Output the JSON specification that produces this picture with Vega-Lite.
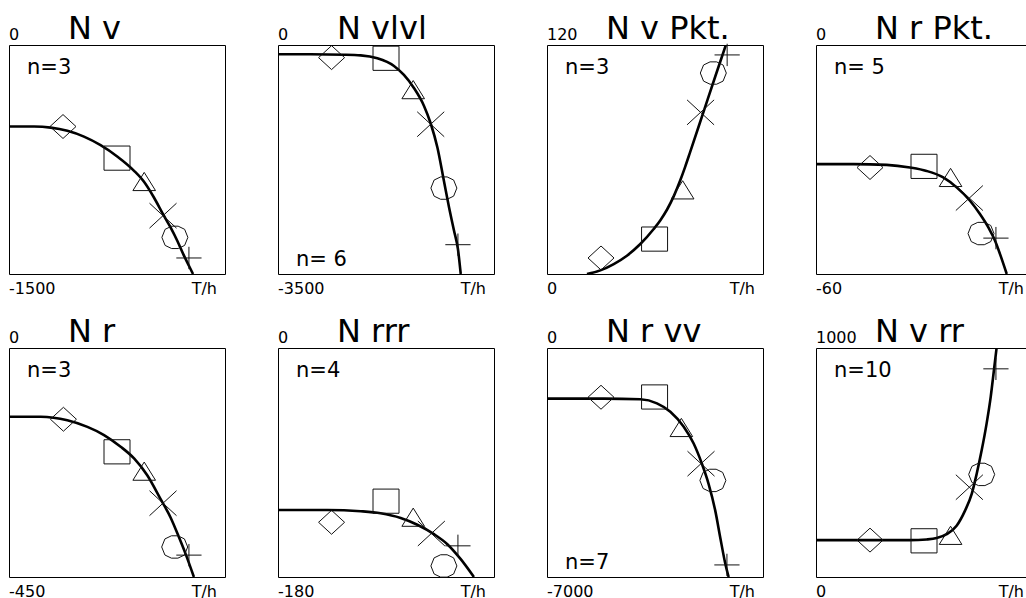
{
  "$schema": "https://vega.github.io/schema/vega-lite/v6.json",
  "padding": {"left": 8, "top": 12, "right": 0, "bottom": 0},
  "bounds": "flush",
  "columns": 4,
  "spacing": {"row": 74, "column": 53},
  "data": {"values": [
    {"k":"m","panel":"N v","x0":0,"x1":100,"hi":0,"lo":-1500,"top":"0","bot":"-1500","n":"n=3","nAt":"top","unit":"T/h"},
    {"k":"m","panel":"N vlvl","x0":0,"x1":100,"hi":0,"lo":-3500,"top":"0","bot":"-3500","n":"n= 6","nAt":"bottom","unit":"T/h"},
    {"k":"m","panel":"N v Pkt.","x0":0,"x1":100,"hi":120,"lo":0,"top":"120","bot":"0","n":"n=3","nAt":"top","unit":"T/h"},
    {"k":"m","panel":"N r Pkt.","x0":0,"x1":100,"hi":0,"lo":-60,"top":"0","bot":"-60","n":"n= 5","nAt":"top","unit":"T/h"},
    {"k":"m","panel":"N r","x0":0,"x1":100,"hi":0,"lo":-450,"top":"0","bot":"-450","n":"n=3","nAt":"top","unit":"T/h"},
    {"k":"m","panel":"N rrr","x0":0,"x1":100,"hi":0,"lo":-180,"top":"0","bot":"-180","n":"n=4","nAt":"top","unit":"T/h"},
    {"k":"m","panel":"N r vv","x0":0,"x1":100,"hi":0,"lo":-7000,"top":"0","bot":"-7000","n":"n=7","nAt":"bottom","unit":"T/h"},
    {"k":"m","panel":"N v rr","x0":0,"x1":100,"hi":1000,"lo":0,"top":"1000","bot":"0","n":"n=10","nAt":"top","unit":"T/h"},

    {"k":"c","panel":"N v","x":0,"y":-534},{"k":"c","panel":"N v","x":11.6,"y":-534},{"k":"c","panel":"N v","x":19.3,"y":-541},{"k":"c","panel":"N v","x":27,"y":-562},{"k":"c","panel":"N v","x":34.7,"y":-600},{"k":"c","panel":"N v","x":42.4,"y":-656},{"k":"c","panel":"N v","x":50.1,"y":-730},{"k":"c","panel":"N v","x":57.9,"y":-824},{"k":"c","panel":"N v","x":62.5,"y":-896},{"k":"c","panel":"N v","x":67.1,"y":-999},{"k":"c","panel":"N v","x":71.3,"y":-1108},{"k":"c","panel":"N v","x":74.8,"y":-1195},{"k":"c","panel":"N v","x":77.9,"y":-1282},{"k":"c","panel":"N v","x":81,"y":-1380},{"k":"c","panel":"N v","x":83.3,"y":-1446},{"k":"c","panel":"N v","x":85.2,"y":-1500},

    {"k":"c","panel":"N vlvl","x":0,"y":-142},{"k":"c","panel":"N vlvl","x":15.1,"y":-142},{"k":"c","panel":"N vlvl","x":30.6,"y":-148},{"k":"c","panel":"N vlvl","x":38.3,"y":-158},{"k":"c","panel":"N vlvl","x":46,"y":-203},{"k":"c","panel":"N vlvl","x":53.7,"y":-320},{"k":"c","panel":"N vlvl","x":58.3,"y":-458},{"k":"c","panel":"N vlvl","x":63,"y":-661},{"k":"c","panel":"N vlvl","x":67.6,"y":-931},{"k":"c","panel":"N vlvl","x":70.7,"y":-1200},{"k":"c","panel":"N vlvl","x":73.8,"y":-1567},{"k":"c","panel":"N vlvl","x":76.8,"y":-2076},{"k":"c","panel":"N vlvl","x":79.2,"y":-2483},{"k":"c","panel":"N vlvl","x":81.5,"y":-2839},{"k":"c","panel":"N vlvl","x":83.3,"y":-3118},{"k":"c","panel":"N vlvl","x":84.6,"y":-3500},

    {"k":"c","panel":"N v Pkt.","x":18.5,"y":0},{"k":"c","panel":"N v Pkt.","x":24.7,"y":1.9},{"k":"c","panel":"N v Pkt.","x":30.9,"y":5.2},{"k":"c","panel":"N v Pkt.","x":37,"y":9.6},{"k":"c","panel":"N v Pkt.","x":43.2,"y":15.7},{"k":"c","panel":"N v Pkt.","x":49.4,"y":23.6},{"k":"c","panel":"N v Pkt.","x":52.5,"y":28.2},{"k":"c","panel":"N v Pkt.","x":55.6,"y":33.8},{"k":"c","panel":"N v Pkt.","x":58.7,"y":40.8},{"k":"c","panel":"N v Pkt.","x":61.7,"y":49.1},{"k":"c","panel":"N v Pkt.","x":64,"y":56.3},{"k":"c","panel":"N v Pkt.","x":66.3,"y":64},{"k":"c","panel":"N v Pkt.","x":72.5,"y":85.1},{"k":"c","panel":"N v Pkt.","x":77.9,"y":103.5},{"k":"c","panel":"N v Pkt.","x":82.8,"y":120},

    {"k":"c","panel":"N r Pkt.","x":0,"y":-31.2},{"k":"c","panel":"N r Pkt.","x":17.3,"y":-31.2},{"k":"c","panel":"N r Pkt.","x":32.7,"y":-31.4},{"k":"c","panel":"N r Pkt.","x":43.5,"y":-32.1},{"k":"c","panel":"N r Pkt.","x":51.2,"y":-33},{"k":"c","panel":"N r Pkt.","x":58.9,"y":-34.7},{"k":"c","panel":"N r Pkt.","x":65.1,"y":-37.3},{"k":"c","panel":"N r Pkt.","x":71.3,"y":-40.8},{"k":"c","panel":"N r Pkt.","x":75.9,"y":-44.3},{"k":"c","panel":"N r Pkt.","x":79.8,"y":-47.8},{"k":"c","panel":"N r Pkt.","x":82.9,"y":-51.3},{"k":"c","panel":"N r Pkt.","x":85.2,"y":-54.8},{"k":"c","panel":"N r Pkt.","x":88.3,"y":-60},

    {"k":"c","panel":"N r","x":0,"y":-135},{"k":"c","panel":"N r","x":14.7,"y":-135},{"k":"c","panel":"N r","x":27,"y":-142},{"k":"c","panel":"N r","x":36.3,"y":-155},{"k":"c","panel":"N r","x":44,"y":-171},{"k":"c","panel":"N r","x":51.7,"y":-194},{"k":"c","panel":"N r","x":57.9,"y":-217},{"k":"c","panel":"N r","x":64,"y":-250},{"k":"c","panel":"N r","x":70.2,"y":-297},{"k":"c","panel":"N r","x":74.8,"y":-333},{"k":"c","panel":"N r","x":78.7,"y":-372},{"k":"c","panel":"N r","x":81.8,"y":-405},{"k":"c","panel":"N r","x":85.6,"y":-450},

    {"k":"c","panel":"N rrr","x":0,"y":-127.3},{"k":"c","panel":"N rrr","x":22.8,"y":-127.3},{"k":"c","panel":"N rrr","x":38.3,"y":-128.3},{"k":"c","panel":"N rrr","x":47.5,"y":-129.9},{"k":"c","panel":"N rrr","x":56.8,"y":-133.6},{"k":"c","panel":"N rrr","x":64.5,"y":-138.9},{"k":"c","panel":"N rrr","x":72.2,"y":-146.3},{"k":"c","panel":"N rrr","x":78.4,"y":-154.2},{"k":"c","panel":"N rrr","x":84.6,"y":-166},{"k":"c","panel":"N rrr","x":90.7,"y":-180},

    {"k":"c","panel":"N r vv","x":0,"y":-1548},{"k":"c","panel":"N r vv","x":26.2,"y":-1548},{"k":"c","panel":"N r vv","x":43.2,"y":-1568},{"k":"c","panel":"N r vv","x":50.9,"y":-1691},{"k":"c","panel":"N r vv","x":57.1,"y":-1947},{"k":"c","panel":"N r vv","x":63.3,"y":-2408},{"k":"c","panel":"N r vv","x":67.9,"y":-2921},{"k":"c","panel":"N r vv","x":71.7,"y":-3536},{"k":"c","panel":"N r vv","x":74.8,"y":-4151},{"k":"c","panel":"N r vv","x":77.9,"y":-4971},{"k":"c","panel":"N r vv","x":80.2,"y":-5790},{"k":"c","panel":"N r vv","x":82.6,"y":-6610},{"k":"c","panel":"N r vv","x":84.1,"y":-7000},

    {"k":"c","panel":"N v rr","x":0,"y":161},{"k":"c","panel":"N v rr","x":25,"y":161},{"k":"c","panel":"N v rr","x":43.5,"y":161},{"k":"c","panel":"N v rr","x":51.2,"y":164},{"k":"c","panel":"N v rr","x":55.9,"y":170},{"k":"c","panel":"N v rr","x":60.5,"y":187},{"k":"c","panel":"N v rr","x":65.1,"y":224},{"k":"c","panel":"N v rr","x":69,"y":290},{"k":"c","panel":"N v rr","x":72.1,"y":363},{"k":"c","panel":"N v rr","x":74.4,"y":451},{"k":"c","panel":"N v rr","x":76.7,"y":553},{"k":"c","panel":"N v rr","x":79,"y":671},{"k":"c","panel":"N v rr","x":80.9,"y":788},{"k":"c","panel":"N v rr","x":82.4,"y":905},{"k":"c","panel":"N v rr","x":83.6,"y":1000},

    {"k":"p","panel":"N v","s":"diamond","x":25,"y":-534},{"k":"p","panel":"N v","s":"square","x":50,"y":-741},{"k":"p","panel":"N v","s":"triangle","x":62.6,"y":-894},{"k":"p","panel":"N v","s":"x-cross","x":71.3,"y":-1118},{"k":"p","panel":"N v","s":"octagon","x":76.8,"y":-1260},{"k":"p","panel":"N v","s":"plus","x":83.3,"y":-1395},
    {"k":"p","panel":"N vlvl","s":"diamond","x":24.8,"y":-193},{"k":"p","panel":"N vlvl","s":"square","x":50,"y":-203},{"k":"p","panel":"N vlvl","s":"triangle","x":62.6,"y":-682},{"k":"p","panel":"N vlvl","s":"x-cross","x":70.7,"y":-1211},{"k":"p","panel":"N vlvl","s":"octagon","x":76.8,"y":-2187},{"k":"p","panel":"N vlvl","s":"plus","x":83.3,"y":-3052},
    {"k":"p","panel":"N v Pkt.","s":"diamond","x":25,"y":8.4},{"k":"p","panel":"N v Pkt.","s":"square","x":49.8,"y":18.3},{"k":"p","panel":"N v Pkt.","s":"triangle","x":62.8,"y":44.1},{"k":"p","panel":"N v Pkt.","s":"x-cross","x":71.1,"y":84.7},{"k":"p","panel":"N v Pkt.","s":"octagon","x":77,"y":105.3},{"k":"p","panel":"N v Pkt.","s":"plus","x":83.4,"y":114.8},
    {"k":"p","panel":"N r Pkt.","s":"diamond","x":25,"y":-32.1},{"k":"p","panel":"N r Pkt.","s":"square","x":50,"y":-31.8},{"k":"p","panel":"N r Pkt.","s":"triangle","x":62.3,"y":-34.7},{"k":"p","panel":"N r Pkt.","s":"x-cross","x":71,"y":-40.1},{"k":"p","panel":"N r Pkt.","s":"octagon","x":76.4,"y":-49.4},{"k":"p","panel":"N r Pkt.","s":"plus","x":83.3,"y":-50.6},
    {"k":"p","panel":"N r","s":"diamond","x":25.2,"y":-140},{"k":"p","panel":"N r","s":"square","x":50,"y":-204},{"k":"p","panel":"N r","s":"triangle","x":62.6,"y":-242},{"k":"p","panel":"N r","s":"x-cross","x":71.3,"y":-305},{"k":"p","panel":"N r","s":"octagon","x":76.7,"y":-391},{"k":"p","panel":"N r","s":"plus","x":83.3,"y":-407},
    {"k":"p","panel":"N rrr","s":"diamond","x":24.8,"y":-137},{"k":"p","panel":"N rrr","s":"square","x":50,"y":-120.4},{"k":"p","panel":"N rrr","s":"triangle","x":62.6,"y":-133},{"k":"p","panel":"N rrr","s":"x-cross","x":71,"y":-145.8},{"k":"p","panel":"N rrr","s":"octagon","x":76.8,"y":-171.3},{"k":"p","panel":"N rrr","s":"plus","x":83.3,"y":-155.5},
    {"k":"p","panel":"N r vv","s":"diamond","x":25,"y":-1506},{"k":"p","panel":"N r vv","s":"square","x":49.8,"y":-1497},{"k":"p","panel":"N r vv","s":"triangle","x":62.2,"y":-2429},{"k":"p","panel":"N r vv","s":"x-cross","x":71.3,"y":-3536},{"k":"p","panel":"N r vv","s":"octagon","x":76.8,"y":-4048},{"k":"p","panel":"N r vv","s":"plus","x":83.3,"y":-6631},
    {"k":"p","panel":"N v rr","s":"diamond","x":25,"y":161},{"k":"p","panel":"N v rr","s":"square","x":50,"y":158},{"k":"p","panel":"N v rr","s":"triangle","x":62.3,"y":182},{"k":"p","panel":"N v rr","s":"x-cross","x":71,"y":392},{"k":"p","panel":"N v rr","s":"octagon","x":76.7,"y":448},{"k":"p","panel":"N v rr","s":"plus","x":83.3,"y":909}
  ]},
  "concat": [
    {"transform": [{"filter": "datum.panel == 'N v'"}], "width": 216, "height": 229, "layer": [
      {"transform": [{"filter": "datum.k == 'c'"}], "mark": {"type": "line", "interpolate": "monotone", "stroke": "#000", "strokeWidth": 2.6, "clip": true}, "encoding": {"x": {"field": "x", "type": "quantitative", "scale": {"domain": [0, 100]}, "axis": null}, "y": {"field": "y", "type": "quantitative", "scale": {"zero": false, "nice": false}, "axis": null}}},
      {"transform": [{"filter": "datum.k == 'p'"}], "mark": {"type": "point", "filled": false, "stroke": "#111", "strokeWidth": 1, "size": 676, "opacity": 1}, "encoding": {"x": {"field": "x", "type": "quantitative", "scale": {"domain": [0, 100]}, "axis": null}, "y": {"field": "y", "type": "quantitative", "scale": {"zero": false, "nice": false}, "axis": null}, "shape": {"field": "s", "type": "nominal", "legend": null, "scale": {"domain": ["diamond","square","triangle","x-cross","octagon","plus"], "range": ["M-1,0L0,-0.92L1,0L0,0.92Z","M-1,-0.93L1,-0.93L1,0.93L-1,0.93Z","M0,-0.7L-0.87,0.7L0.87,0.7Z","M-1.04,-0.96L1.04,0.96M-1.04,0.96L1.04,-0.96","M1,0L0.75,0.62L0.25,0.86L-0.25,0.86L-0.75,0.62L-1,0L-0.75,-0.62L-0.25,-0.86L0.25,-0.86L0.75,-0.62Z","M-0.97,0L0.97,0M0,-0.86L0,0.86"]}}}},
      {"transform": [{"filter": "datum.k == 'm'"}], "mark": {"type": "text", "align": "left", "baseline": "alphabetic", "dx": 59, "dy": -6, "fontSize": 32, "font": "DejaVu Sans", "color": "#000"}, "encoding": {"x": {"field": "x0", "type": "quantitative", "scale": {"domain": [0, 100]}, "axis": null}, "y": {"field": "hi", "type": "quantitative", "scale": {"zero": false, "nice": false}, "axis": null}, "text": {"field": "panel"}}},
      {"transform": [{"filter": "datum.k == 'm'"}], "mark": {"type": "text", "align": "left", "baseline": "alphabetic", "dy": -5, "fontSize": 16, "font": "DejaVu Sans", "color": "#000"}, "encoding": {"x": {"field": "x0", "type": "quantitative", "scale": {"domain": [0, 100]}, "axis": null}, "y": {"field": "hi", "type": "quantitative", "scale": {"zero": false, "nice": false}, "axis": null}, "text": {"field": "top"}}},
      {"transform": [{"filter": "datum.k == 'm'"}], "mark": {"type": "text", "align": "left", "baseline": "alphabetic", "dy": 20, "fontSize": 16, "font": "DejaVu Sans", "color": "#000"}, "encoding": {"x": {"field": "x0", "type": "quantitative", "scale": {"domain": [0, 100]}, "axis": null}, "y": {"field": "lo", "type": "quantitative", "scale": {"zero": false, "nice": false}, "axis": null}, "text": {"field": "bot"}}},
      {"transform": [{"filter": "datum.k == 'm'"}], "mark": {"type": "text", "align": "right", "baseline": "alphabetic", "dx": -8, "dy": 20, "fontSize": 16, "font": "DejaVu Sans", "color": "#000"}, "encoding": {"x": {"field": "x1", "type": "quantitative", "scale": {"domain": [0, 100]}, "axis": null}, "y": {"field": "lo", "type": "quantitative", "scale": {"zero": false, "nice": false}, "axis": null}, "text": {"field": "unit"}}},
      {"transform": [{"filter": "datum.k == 'm' && datum.nAt == 'top'"}], "mark": {"type": "text", "align": "left", "baseline": "alphabetic", "dx": 18, "dy": 29, "fontSize": 21, "font": "DejaVu Sans", "color": "#000"}, "encoding": {"x": {"field": "x0", "type": "quantitative", "scale": {"domain": [0, 100]}, "axis": null}, "y": {"field": "hi", "type": "quantitative", "scale": {"zero": false, "nice": false}, "axis": null}, "text": {"field": "n"}}},
      {"transform": [{"filter": "datum.k == 'm' && datum.nAt == 'bottom'"}], "mark": {"type": "text", "align": "left", "baseline": "alphabetic", "dx": 18, "dy": -8, "fontSize": 21, "font": "DejaVu Sans", "color": "#000"}, "encoding": {"x": {"field": "x0", "type": "quantitative", "scale": {"domain": [0, 100]}, "axis": null}, "y": {"field": "lo", "type": "quantitative", "scale": {"zero": false, "nice": false}, "axis": null}, "text": {"field": "n"}}}
    ]},
    {"transform": [{"filter": "datum.panel == 'N vlvl'"}], "width": 216, "height": 229, "layer": [
      {"transform": [{"filter": "datum.k == 'c'"}], "mark": {"type": "line", "interpolate": "monotone", "stroke": "#000", "strokeWidth": 2.6, "clip": true}, "encoding": {"x": {"field": "x", "type": "quantitative", "scale": {"domain": [0, 100]}, "axis": null}, "y": {"field": "y", "type": "quantitative", "scale": {"zero": false, "nice": false}, "axis": null}}},
      {"transform": [{"filter": "datum.k == 'p'"}], "mark": {"type": "point", "filled": false, "stroke": "#111", "strokeWidth": 1, "size": 676, "opacity": 1}, "encoding": {"x": {"field": "x", "type": "quantitative", "scale": {"domain": [0, 100]}, "axis": null}, "y": {"field": "y", "type": "quantitative", "scale": {"zero": false, "nice": false}, "axis": null}, "shape": {"field": "s", "type": "nominal", "legend": null, "scale": {"domain": ["diamond","square","triangle","x-cross","octagon","plus"], "range": ["M-1,0L0,-0.92L1,0L0,0.92Z","M-1,-0.93L1,-0.93L1,0.93L-1,0.93Z","M0,-0.7L-0.87,0.7L0.87,0.7Z","M-1.04,-0.96L1.04,0.96M-1.04,0.96L1.04,-0.96","M1,0L0.75,0.62L0.25,0.86L-0.25,0.86L-0.75,0.62L-1,0L-0.75,-0.62L-0.25,-0.86L0.25,-0.86L0.75,-0.62Z","M-0.97,0L0.97,0M0,-0.86L0,0.86"]}}}},
      {"transform": [{"filter": "datum.k == 'm'"}], "mark": {"type": "text", "align": "left", "baseline": "alphabetic", "dx": 59, "dy": -6, "fontSize": 32, "font": "DejaVu Sans", "color": "#000"}, "encoding": {"x": {"field": "x0", "type": "quantitative", "scale": {"domain": [0, 100]}, "axis": null}, "y": {"field": "hi", "type": "quantitative", "scale": {"zero": false, "nice": false}, "axis": null}, "text": {"field": "panel"}}},
      {"transform": [{"filter": "datum.k == 'm'"}], "mark": {"type": "text", "align": "left", "baseline": "alphabetic", "dy": -5, "fontSize": 16, "font": "DejaVu Sans", "color": "#000"}, "encoding": {"x": {"field": "x0", "type": "quantitative", "scale": {"domain": [0, 100]}, "axis": null}, "y": {"field": "hi", "type": "quantitative", "scale": {"zero": false, "nice": false}, "axis": null}, "text": {"field": "top"}}},
      {"transform": [{"filter": "datum.k == 'm'"}], "mark": {"type": "text", "align": "left", "baseline": "alphabetic", "dy": 20, "fontSize": 16, "font": "DejaVu Sans", "color": "#000"}, "encoding": {"x": {"field": "x0", "type": "quantitative", "scale": {"domain": [0, 100]}, "axis": null}, "y": {"field": "lo", "type": "quantitative", "scale": {"zero": false, "nice": false}, "axis": null}, "text": {"field": "bot"}}},
      {"transform": [{"filter": "datum.k == 'm'"}], "mark": {"type": "text", "align": "right", "baseline": "alphabetic", "dx": -8, "dy": 20, "fontSize": 16, "font": "DejaVu Sans", "color": "#000"}, "encoding": {"x": {"field": "x1", "type": "quantitative", "scale": {"domain": [0, 100]}, "axis": null}, "y": {"field": "lo", "type": "quantitative", "scale": {"zero": false, "nice": false}, "axis": null}, "text": {"field": "unit"}}},
      {"transform": [{"filter": "datum.k == 'm' && datum.nAt == 'top'"}], "mark": {"type": "text", "align": "left", "baseline": "alphabetic", "dx": 18, "dy": 29, "fontSize": 21, "font": "DejaVu Sans", "color": "#000"}, "encoding": {"x": {"field": "x0", "type": "quantitative", "scale": {"domain": [0, 100]}, "axis": null}, "y": {"field": "hi", "type": "quantitative", "scale": {"zero": false, "nice": false}, "axis": null}, "text": {"field": "n"}}},
      {"transform": [{"filter": "datum.k == 'm' && datum.nAt == 'bottom'"}], "mark": {"type": "text", "align": "left", "baseline": "alphabetic", "dx": 18, "dy": -8, "fontSize": 21, "font": "DejaVu Sans", "color": "#000"}, "encoding": {"x": {"field": "x0", "type": "quantitative", "scale": {"domain": [0, 100]}, "axis": null}, "y": {"field": "lo", "type": "quantitative", "scale": {"zero": false, "nice": false}, "axis": null}, "text": {"field": "n"}}}
    ]},
    {"transform": [{"filter": "datum.panel == 'N v Pkt.'"}], "width": 216, "height": 229, "layer": [
      {"transform": [{"filter": "datum.k == 'c'"}], "mark": {"type": "line", "interpolate": "monotone", "stroke": "#000", "strokeWidth": 2.6, "clip": true}, "encoding": {"x": {"field": "x", "type": "quantitative", "scale": {"domain": [0, 100]}, "axis": null}, "y": {"field": "y", "type": "quantitative", "scale": {"zero": false, "nice": false}, "axis": null}}},
      {"transform": [{"filter": "datum.k == 'p'"}], "mark": {"type": "point", "filled": false, "stroke": "#111", "strokeWidth": 1, "size": 676, "opacity": 1}, "encoding": {"x": {"field": "x", "type": "quantitative", "scale": {"domain": [0, 100]}, "axis": null}, "y": {"field": "y", "type": "quantitative", "scale": {"zero": false, "nice": false}, "axis": null}, "shape": {"field": "s", "type": "nominal", "legend": null, "scale": {"domain": ["diamond","square","triangle","x-cross","octagon","plus"], "range": ["M-1,0L0,-0.92L1,0L0,0.92Z","M-1,-0.93L1,-0.93L1,0.93L-1,0.93Z","M0,-0.7L-0.87,0.7L0.87,0.7Z","M-1.04,-0.96L1.04,0.96M-1.04,0.96L1.04,-0.96","M1,0L0.75,0.62L0.25,0.86L-0.25,0.86L-0.75,0.62L-1,0L-0.75,-0.62L-0.25,-0.86L0.25,-0.86L0.75,-0.62Z","M-0.97,0L0.97,0M0,-0.86L0,0.86"]}}}},
      {"transform": [{"filter": "datum.k == 'm'"}], "mark": {"type": "text", "align": "left", "baseline": "alphabetic", "dx": 59, "dy": -6, "fontSize": 32, "font": "DejaVu Sans", "color": "#000"}, "encoding": {"x": {"field": "x0", "type": "quantitative", "scale": {"domain": [0, 100]}, "axis": null}, "y": {"field": "hi", "type": "quantitative", "scale": {"zero": false, "nice": false}, "axis": null}, "text": {"field": "panel"}}},
      {"transform": [{"filter": "datum.k == 'm'"}], "mark": {"type": "text", "align": "left", "baseline": "alphabetic", "dy": -5, "fontSize": 16, "font": "DejaVu Sans", "color": "#000"}, "encoding": {"x": {"field": "x0", "type": "quantitative", "scale": {"domain": [0, 100]}, "axis": null}, "y": {"field": "hi", "type": "quantitative", "scale": {"zero": false, "nice": false}, "axis": null}, "text": {"field": "top"}}},
      {"transform": [{"filter": "datum.k == 'm'"}], "mark": {"type": "text", "align": "left", "baseline": "alphabetic", "dy": 20, "fontSize": 16, "font": "DejaVu Sans", "color": "#000"}, "encoding": {"x": {"field": "x0", "type": "quantitative", "scale": {"domain": [0, 100]}, "axis": null}, "y": {"field": "lo", "type": "quantitative", "scale": {"zero": false, "nice": false}, "axis": null}, "text": {"field": "bot"}}},
      {"transform": [{"filter": "datum.k == 'm'"}], "mark": {"type": "text", "align": "right", "baseline": "alphabetic", "dx": -8, "dy": 20, "fontSize": 16, "font": "DejaVu Sans", "color": "#000"}, "encoding": {"x": {"field": "x1", "type": "quantitative", "scale": {"domain": [0, 100]}, "axis": null}, "y": {"field": "lo", "type": "quantitative", "scale": {"zero": false, "nice": false}, "axis": null}, "text": {"field": "unit"}}},
      {"transform": [{"filter": "datum.k == 'm' && datum.nAt == 'top'"}], "mark": {"type": "text", "align": "left", "baseline": "alphabetic", "dx": 18, "dy": 29, "fontSize": 21, "font": "DejaVu Sans", "color": "#000"}, "encoding": {"x": {"field": "x0", "type": "quantitative", "scale": {"domain": [0, 100]}, "axis": null}, "y": {"field": "hi", "type": "quantitative", "scale": {"zero": false, "nice": false}, "axis": null}, "text": {"field": "n"}}},
      {"transform": [{"filter": "datum.k == 'm' && datum.nAt == 'bottom'"}], "mark": {"type": "text", "align": "left", "baseline": "alphabetic", "dx": 18, "dy": -8, "fontSize": 21, "font": "DejaVu Sans", "color": "#000"}, "encoding": {"x": {"field": "x0", "type": "quantitative", "scale": {"domain": [0, 100]}, "axis": null}, "y": {"field": "lo", "type": "quantitative", "scale": {"zero": false, "nice": false}, "axis": null}, "text": {"field": "n"}}}
    ]},
    {"transform": [{"filter": "datum.panel == 'N r Pkt.'"}], "width": 216, "height": 229, "layer": [
      {"transform": [{"filter": "datum.k == 'c'"}], "mark": {"type": "line", "interpolate": "monotone", "stroke": "#000", "strokeWidth": 2.6, "clip": true}, "encoding": {"x": {"field": "x", "type": "quantitative", "scale": {"domain": [0, 100]}, "axis": null}, "y": {"field": "y", "type": "quantitative", "scale": {"zero": false, "nice": false}, "axis": null}}},
      {"transform": [{"filter": "datum.k == 'p'"}], "mark": {"type": "point", "filled": false, "stroke": "#111", "strokeWidth": 1, "size": 676, "opacity": 1}, "encoding": {"x": {"field": "x", "type": "quantitative", "scale": {"domain": [0, 100]}, "axis": null}, "y": {"field": "y", "type": "quantitative", "scale": {"zero": false, "nice": false}, "axis": null}, "shape": {"field": "s", "type": "nominal", "legend": null, "scale": {"domain": ["diamond","square","triangle","x-cross","octagon","plus"], "range": ["M-1,0L0,-0.92L1,0L0,0.92Z","M-1,-0.93L1,-0.93L1,0.93L-1,0.93Z","M0,-0.7L-0.87,0.7L0.87,0.7Z","M-1.04,-0.96L1.04,0.96M-1.04,0.96L1.04,-0.96","M1,0L0.75,0.62L0.25,0.86L-0.25,0.86L-0.75,0.62L-1,0L-0.75,-0.62L-0.25,-0.86L0.25,-0.86L0.75,-0.62Z","M-0.97,0L0.97,0M0,-0.86L0,0.86"]}}}},
      {"transform": [{"filter": "datum.k == 'm'"}], "mark": {"type": "text", "align": "left", "baseline": "alphabetic", "dx": 59, "dy": -6, "fontSize": 32, "font": "DejaVu Sans", "color": "#000"}, "encoding": {"x": {"field": "x0", "type": "quantitative", "scale": {"domain": [0, 100]}, "axis": null}, "y": {"field": "hi", "type": "quantitative", "scale": {"zero": false, "nice": false}, "axis": null}, "text": {"field": "panel"}}},
      {"transform": [{"filter": "datum.k == 'm'"}], "mark": {"type": "text", "align": "left", "baseline": "alphabetic", "dy": -5, "fontSize": 16, "font": "DejaVu Sans", "color": "#000"}, "encoding": {"x": {"field": "x0", "type": "quantitative", "scale": {"domain": [0, 100]}, "axis": null}, "y": {"field": "hi", "type": "quantitative", "scale": {"zero": false, "nice": false}, "axis": null}, "text": {"field": "top"}}},
      {"transform": [{"filter": "datum.k == 'm'"}], "mark": {"type": "text", "align": "left", "baseline": "alphabetic", "dy": 20, "fontSize": 16, "font": "DejaVu Sans", "color": "#000"}, "encoding": {"x": {"field": "x0", "type": "quantitative", "scale": {"domain": [0, 100]}, "axis": null}, "y": {"field": "lo", "type": "quantitative", "scale": {"zero": false, "nice": false}, "axis": null}, "text": {"field": "bot"}}},
      {"transform": [{"filter": "datum.k == 'm'"}], "mark": {"type": "text", "align": "right", "baseline": "alphabetic", "dx": -8, "dy": 20, "fontSize": 16, "font": "DejaVu Sans", "color": "#000"}, "encoding": {"x": {"field": "x1", "type": "quantitative", "scale": {"domain": [0, 100]}, "axis": null}, "y": {"field": "lo", "type": "quantitative", "scale": {"zero": false, "nice": false}, "axis": null}, "text": {"field": "unit"}}},
      {"transform": [{"filter": "datum.k == 'm' && datum.nAt == 'top'"}], "mark": {"type": "text", "align": "left", "baseline": "alphabetic", "dx": 18, "dy": 29, "fontSize": 21, "font": "DejaVu Sans", "color": "#000"}, "encoding": {"x": {"field": "x0", "type": "quantitative", "scale": {"domain": [0, 100]}, "axis": null}, "y": {"field": "hi", "type": "quantitative", "scale": {"zero": false, "nice": false}, "axis": null}, "text": {"field": "n"}}},
      {"transform": [{"filter": "datum.k == 'm' && datum.nAt == 'bottom'"}], "mark": {"type": "text", "align": "left", "baseline": "alphabetic", "dx": 18, "dy": -8, "fontSize": 21, "font": "DejaVu Sans", "color": "#000"}, "encoding": {"x": {"field": "x0", "type": "quantitative", "scale": {"domain": [0, 100]}, "axis": null}, "y": {"field": "lo", "type": "quantitative", "scale": {"zero": false, "nice": false}, "axis": null}, "text": {"field": "n"}}}
    ]},
    {"transform": [{"filter": "datum.panel == 'N r'"}], "width": 216, "height": 229, "layer": [
      {"transform": [{"filter": "datum.k == 'c'"}], "mark": {"type": "line", "interpolate": "monotone", "stroke": "#000", "strokeWidth": 2.6, "clip": true}, "encoding": {"x": {"field": "x", "type": "quantitative", "scale": {"domain": [0, 100]}, "axis": null}, "y": {"field": "y", "type": "quantitative", "scale": {"zero": false, "nice": false}, "axis": null}}},
      {"transform": [{"filter": "datum.k == 'p'"}], "mark": {"type": "point", "filled": false, "stroke": "#111", "strokeWidth": 1, "size": 676, "opacity": 1}, "encoding": {"x": {"field": "x", "type": "quantitative", "scale": {"domain": [0, 100]}, "axis": null}, "y": {"field": "y", "type": "quantitative", "scale": {"zero": false, "nice": false}, "axis": null}, "shape": {"field": "s", "type": "nominal", "legend": null, "scale": {"domain": ["diamond","square","triangle","x-cross","octagon","plus"], "range": ["M-1,0L0,-0.92L1,0L0,0.92Z","M-1,-0.93L1,-0.93L1,0.93L-1,0.93Z","M0,-0.7L-0.87,0.7L0.87,0.7Z","M-1.04,-0.96L1.04,0.96M-1.04,0.96L1.04,-0.96","M1,0L0.75,0.62L0.25,0.86L-0.25,0.86L-0.75,0.62L-1,0L-0.75,-0.62L-0.25,-0.86L0.25,-0.86L0.75,-0.62Z","M-0.97,0L0.97,0M0,-0.86L0,0.86"]}}}},
      {"transform": [{"filter": "datum.k == 'm'"}], "mark": {"type": "text", "align": "left", "baseline": "alphabetic", "dx": 59, "dy": -6, "fontSize": 32, "font": "DejaVu Sans", "color": "#000"}, "encoding": {"x": {"field": "x0", "type": "quantitative", "scale": {"domain": [0, 100]}, "axis": null}, "y": {"field": "hi", "type": "quantitative", "scale": {"zero": false, "nice": false}, "axis": null}, "text": {"field": "panel"}}},
      {"transform": [{"filter": "datum.k == 'm'"}], "mark": {"type": "text", "align": "left", "baseline": "alphabetic", "dy": -5, "fontSize": 16, "font": "DejaVu Sans", "color": "#000"}, "encoding": {"x": {"field": "x0", "type": "quantitative", "scale": {"domain": [0, 100]}, "axis": null}, "y": {"field": "hi", "type": "quantitative", "scale": {"zero": false, "nice": false}, "axis": null}, "text": {"field": "top"}}},
      {"transform": [{"filter": "datum.k == 'm'"}], "mark": {"type": "text", "align": "left", "baseline": "alphabetic", "dy": 20, "fontSize": 16, "font": "DejaVu Sans", "color": "#000"}, "encoding": {"x": {"field": "x0", "type": "quantitative", "scale": {"domain": [0, 100]}, "axis": null}, "y": {"field": "lo", "type": "quantitative", "scale": {"zero": false, "nice": false}, "axis": null}, "text": {"field": "bot"}}},
      {"transform": [{"filter": "datum.k == 'm'"}], "mark": {"type": "text", "align": "right", "baseline": "alphabetic", "dx": -8, "dy": 20, "fontSize": 16, "font": "DejaVu Sans", "color": "#000"}, "encoding": {"x": {"field": "x1", "type": "quantitative", "scale": {"domain": [0, 100]}, "axis": null}, "y": {"field": "lo", "type": "quantitative", "scale": {"zero": false, "nice": false}, "axis": null}, "text": {"field": "unit"}}},
      {"transform": [{"filter": "datum.k == 'm' && datum.nAt == 'top'"}], "mark": {"type": "text", "align": "left", "baseline": "alphabetic", "dx": 18, "dy": 29, "fontSize": 21, "font": "DejaVu Sans", "color": "#000"}, "encoding": {"x": {"field": "x0", "type": "quantitative", "scale": {"domain": [0, 100]}, "axis": null}, "y": {"field": "hi", "type": "quantitative", "scale": {"zero": false, "nice": false}, "axis": null}, "text": {"field": "n"}}},
      {"transform": [{"filter": "datum.k == 'm' && datum.nAt == 'bottom'"}], "mark": {"type": "text", "align": "left", "baseline": "alphabetic", "dx": 18, "dy": -8, "fontSize": 21, "font": "DejaVu Sans", "color": "#000"}, "encoding": {"x": {"field": "x0", "type": "quantitative", "scale": {"domain": [0, 100]}, "axis": null}, "y": {"field": "lo", "type": "quantitative", "scale": {"zero": false, "nice": false}, "axis": null}, "text": {"field": "n"}}}
    ]},
    {"transform": [{"filter": "datum.panel == 'N rrr'"}], "width": 216, "height": 229, "layer": [
      {"transform": [{"filter": "datum.k == 'c'"}], "mark": {"type": "line", "interpolate": "monotone", "stroke": "#000", "strokeWidth": 2.6, "clip": true}, "encoding": {"x": {"field": "x", "type": "quantitative", "scale": {"domain": [0, 100]}, "axis": null}, "y": {"field": "y", "type": "quantitative", "scale": {"zero": false, "nice": false}, "axis": null}}},
      {"transform": [{"filter": "datum.k == 'p'"}], "mark": {"type": "point", "filled": false, "stroke": "#111", "strokeWidth": 1, "size": 676, "opacity": 1}, "encoding": {"x": {"field": "x", "type": "quantitative", "scale": {"domain": [0, 100]}, "axis": null}, "y": {"field": "y", "type": "quantitative", "scale": {"zero": false, "nice": false}, "axis": null}, "shape": {"field": "s", "type": "nominal", "legend": null, "scale": {"domain": ["diamond","square","triangle","x-cross","octagon","plus"], "range": ["M-1,0L0,-0.92L1,0L0,0.92Z","M-1,-0.93L1,-0.93L1,0.93L-1,0.93Z","M0,-0.7L-0.87,0.7L0.87,0.7Z","M-1.04,-0.96L1.04,0.96M-1.04,0.96L1.04,-0.96","M1,0L0.75,0.62L0.25,0.86L-0.25,0.86L-0.75,0.62L-1,0L-0.75,-0.62L-0.25,-0.86L0.25,-0.86L0.75,-0.62Z","M-0.97,0L0.97,0M0,-0.86L0,0.86"]}}}},
      {"transform": [{"filter": "datum.k == 'm'"}], "mark": {"type": "text", "align": "left", "baseline": "alphabetic", "dx": 59, "dy": -6, "fontSize": 32, "font": "DejaVu Sans", "color": "#000"}, "encoding": {"x": {"field": "x0", "type": "quantitative", "scale": {"domain": [0, 100]}, "axis": null}, "y": {"field": "hi", "type": "quantitative", "scale": {"zero": false, "nice": false}, "axis": null}, "text": {"field": "panel"}}},
      {"transform": [{"filter": "datum.k == 'm'"}], "mark": {"type": "text", "align": "left", "baseline": "alphabetic", "dy": -5, "fontSize": 16, "font": "DejaVu Sans", "color": "#000"}, "encoding": {"x": {"field": "x0", "type": "quantitative", "scale": {"domain": [0, 100]}, "axis": null}, "y": {"field": "hi", "type": "quantitative", "scale": {"zero": false, "nice": false}, "axis": null}, "text": {"field": "top"}}},
      {"transform": [{"filter": "datum.k == 'm'"}], "mark": {"type": "text", "align": "left", "baseline": "alphabetic", "dy": 20, "fontSize": 16, "font": "DejaVu Sans", "color": "#000"}, "encoding": {"x": {"field": "x0", "type": "quantitative", "scale": {"domain": [0, 100]}, "axis": null}, "y": {"field": "lo", "type": "quantitative", "scale": {"zero": false, "nice": false}, "axis": null}, "text": {"field": "bot"}}},
      {"transform": [{"filter": "datum.k == 'm'"}], "mark": {"type": "text", "align": "right", "baseline": "alphabetic", "dx": -8, "dy": 20, "fontSize": 16, "font": "DejaVu Sans", "color": "#000"}, "encoding": {"x": {"field": "x1", "type": "quantitative", "scale": {"domain": [0, 100]}, "axis": null}, "y": {"field": "lo", "type": "quantitative", "scale": {"zero": false, "nice": false}, "axis": null}, "text": {"field": "unit"}}},
      {"transform": [{"filter": "datum.k == 'm' && datum.nAt == 'top'"}], "mark": {"type": "text", "align": "left", "baseline": "alphabetic", "dx": 18, "dy": 29, "fontSize": 21, "font": "DejaVu Sans", "color": "#000"}, "encoding": {"x": {"field": "x0", "type": "quantitative", "scale": {"domain": [0, 100]}, "axis": null}, "y": {"field": "hi", "type": "quantitative", "scale": {"zero": false, "nice": false}, "axis": null}, "text": {"field": "n"}}},
      {"transform": [{"filter": "datum.k == 'm' && datum.nAt == 'bottom'"}], "mark": {"type": "text", "align": "left", "baseline": "alphabetic", "dx": 18, "dy": -8, "fontSize": 21, "font": "DejaVu Sans", "color": "#000"}, "encoding": {"x": {"field": "x0", "type": "quantitative", "scale": {"domain": [0, 100]}, "axis": null}, "y": {"field": "lo", "type": "quantitative", "scale": {"zero": false, "nice": false}, "axis": null}, "text": {"field": "n"}}}
    ]},
    {"transform": [{"filter": "datum.panel == 'N r vv'"}], "width": 216, "height": 229, "layer": [
      {"transform": [{"filter": "datum.k == 'c'"}], "mark": {"type": "line", "interpolate": "monotone", "stroke": "#000", "strokeWidth": 2.6, "clip": true}, "encoding": {"x": {"field": "x", "type": "quantitative", "scale": {"domain": [0, 100]}, "axis": null}, "y": {"field": "y", "type": "quantitative", "scale": {"zero": false, "nice": false}, "axis": null}}},
      {"transform": [{"filter": "datum.k == 'p'"}], "mark": {"type": "point", "filled": false, "stroke": "#111", "strokeWidth": 1, "size": 676, "opacity": 1}, "encoding": {"x": {"field": "x", "type": "quantitative", "scale": {"domain": [0, 100]}, "axis": null}, "y": {"field": "y", "type": "quantitative", "scale": {"zero": false, "nice": false}, "axis": null}, "shape": {"field": "s", "type": "nominal", "legend": null, "scale": {"domain": ["diamond","square","triangle","x-cross","octagon","plus"], "range": ["M-1,0L0,-0.92L1,0L0,0.92Z","M-1,-0.93L1,-0.93L1,0.93L-1,0.93Z","M0,-0.7L-0.87,0.7L0.87,0.7Z","M-1.04,-0.96L1.04,0.96M-1.04,0.96L1.04,-0.96","M1,0L0.75,0.62L0.25,0.86L-0.25,0.86L-0.75,0.62L-1,0L-0.75,-0.62L-0.25,-0.86L0.25,-0.86L0.75,-0.62Z","M-0.97,0L0.97,0M0,-0.86L0,0.86"]}}}},
      {"transform": [{"filter": "datum.k == 'm'"}], "mark": {"type": "text", "align": "left", "baseline": "alphabetic", "dx": 59, "dy": -6, "fontSize": 32, "font": "DejaVu Sans", "color": "#000"}, "encoding": {"x": {"field": "x0", "type": "quantitative", "scale": {"domain": [0, 100]}, "axis": null}, "y": {"field": "hi", "type": "quantitative", "scale": {"zero": false, "nice": false}, "axis": null}, "text": {"field": "panel"}}},
      {"transform": [{"filter": "datum.k == 'm'"}], "mark": {"type": "text", "align": "left", "baseline": "alphabetic", "dy": -5, "fontSize": 16, "font": "DejaVu Sans", "color": "#000"}, "encoding": {"x": {"field": "x0", "type": "quantitative", "scale": {"domain": [0, 100]}, "axis": null}, "y": {"field": "hi", "type": "quantitative", "scale": {"zero": false, "nice": false}, "axis": null}, "text": {"field": "top"}}},
      {"transform": [{"filter": "datum.k == 'm'"}], "mark": {"type": "text", "align": "left", "baseline": "alphabetic", "dy": 20, "fontSize": 16, "font": "DejaVu Sans", "color": "#000"}, "encoding": {"x": {"field": "x0", "type": "quantitative", "scale": {"domain": [0, 100]}, "axis": null}, "y": {"field": "lo", "type": "quantitative", "scale": {"zero": false, "nice": false}, "axis": null}, "text": {"field": "bot"}}},
      {"transform": [{"filter": "datum.k == 'm'"}], "mark": {"type": "text", "align": "right", "baseline": "alphabetic", "dx": -8, "dy": 20, "fontSize": 16, "font": "DejaVu Sans", "color": "#000"}, "encoding": {"x": {"field": "x1", "type": "quantitative", "scale": {"domain": [0, 100]}, "axis": null}, "y": {"field": "lo", "type": "quantitative", "scale": {"zero": false, "nice": false}, "axis": null}, "text": {"field": "unit"}}},
      {"transform": [{"filter": "datum.k == 'm' && datum.nAt == 'top'"}], "mark": {"type": "text", "align": "left", "baseline": "alphabetic", "dx": 18, "dy": 29, "fontSize": 21, "font": "DejaVu Sans", "color": "#000"}, "encoding": {"x": {"field": "x0", "type": "quantitative", "scale": {"domain": [0, 100]}, "axis": null}, "y": {"field": "hi", "type": "quantitative", "scale": {"zero": false, "nice": false}, "axis": null}, "text": {"field": "n"}}},
      {"transform": [{"filter": "datum.k == 'm' && datum.nAt == 'bottom'"}], "mark": {"type": "text", "align": "left", "baseline": "alphabetic", "dx": 18, "dy": -8, "fontSize": 21, "font": "DejaVu Sans", "color": "#000"}, "encoding": {"x": {"field": "x0", "type": "quantitative", "scale": {"domain": [0, 100]}, "axis": null}, "y": {"field": "lo", "type": "quantitative", "scale": {"zero": false, "nice": false}, "axis": null}, "text": {"field": "n"}}}
    ]},
    {"transform": [{"filter": "datum.panel == 'N v rr'"}], "width": 216, "height": 229, "layer": [
      {"transform": [{"filter": "datum.k == 'c'"}], "mark": {"type": "line", "interpolate": "monotone", "stroke": "#000", "strokeWidth": 2.6, "clip": true}, "encoding": {"x": {"field": "x", "type": "quantitative", "scale": {"domain": [0, 100]}, "axis": null}, "y": {"field": "y", "type": "quantitative", "scale": {"zero": false, "nice": false}, "axis": null}}},
      {"transform": [{"filter": "datum.k == 'p'"}], "mark": {"type": "point", "filled": false, "stroke": "#111", "strokeWidth": 1, "size": 676, "opacity": 1}, "encoding": {"x": {"field": "x", "type": "quantitative", "scale": {"domain": [0, 100]}, "axis": null}, "y": {"field": "y", "type": "quantitative", "scale": {"zero": false, "nice": false}, "axis": null}, "shape": {"field": "s", "type": "nominal", "legend": null, "scale": {"domain": ["diamond","square","triangle","x-cross","octagon","plus"], "range": ["M-1,0L0,-0.92L1,0L0,0.92Z","M-1,-0.93L1,-0.93L1,0.93L-1,0.93Z","M0,-0.7L-0.87,0.7L0.87,0.7Z","M-1.04,-0.96L1.04,0.96M-1.04,0.96L1.04,-0.96","M1,0L0.75,0.62L0.25,0.86L-0.25,0.86L-0.75,0.62L-1,0L-0.75,-0.62L-0.25,-0.86L0.25,-0.86L0.75,-0.62Z","M-0.97,0L0.97,0M0,-0.86L0,0.86"]}}}},
      {"transform": [{"filter": "datum.k == 'm'"}], "mark": {"type": "text", "align": "left", "baseline": "alphabetic", "dx": 59, "dy": -6, "fontSize": 32, "font": "DejaVu Sans", "color": "#000"}, "encoding": {"x": {"field": "x0", "type": "quantitative", "scale": {"domain": [0, 100]}, "axis": null}, "y": {"field": "hi", "type": "quantitative", "scale": {"zero": false, "nice": false}, "axis": null}, "text": {"field": "panel"}}},
      {"transform": [{"filter": "datum.k == 'm'"}], "mark": {"type": "text", "align": "left", "baseline": "alphabetic", "dy": -5, "fontSize": 16, "font": "DejaVu Sans", "color": "#000"}, "encoding": {"x": {"field": "x0", "type": "quantitative", "scale": {"domain": [0, 100]}, "axis": null}, "y": {"field": "hi", "type": "quantitative", "scale": {"zero": false, "nice": false}, "axis": null}, "text": {"field": "top"}}},
      {"transform": [{"filter": "datum.k == 'm'"}], "mark": {"type": "text", "align": "left", "baseline": "alphabetic", "dy": 20, "fontSize": 16, "font": "DejaVu Sans", "color": "#000"}, "encoding": {"x": {"field": "x0", "type": "quantitative", "scale": {"domain": [0, 100]}, "axis": null}, "y": {"field": "lo", "type": "quantitative", "scale": {"zero": false, "nice": false}, "axis": null}, "text": {"field": "bot"}}},
      {"transform": [{"filter": "datum.k == 'm'"}], "mark": {"type": "text", "align": "right", "baseline": "alphabetic", "dx": -8, "dy": 20, "fontSize": 16, "font": "DejaVu Sans", "color": "#000"}, "encoding": {"x": {"field": "x1", "type": "quantitative", "scale": {"domain": [0, 100]}, "axis": null}, "y": {"field": "lo", "type": "quantitative", "scale": {"zero": false, "nice": false}, "axis": null}, "text": {"field": "unit"}}},
      {"transform": [{"filter": "datum.k == 'm' && datum.nAt == 'top'"}], "mark": {"type": "text", "align": "left", "baseline": "alphabetic", "dx": 18, "dy": 29, "fontSize": 21, "font": "DejaVu Sans", "color": "#000"}, "encoding": {"x": {"field": "x0", "type": "quantitative", "scale": {"domain": [0, 100]}, "axis": null}, "y": {"field": "hi", "type": "quantitative", "scale": {"zero": false, "nice": false}, "axis": null}, "text": {"field": "n"}}},
      {"transform": [{"filter": "datum.k == 'm' && datum.nAt == 'bottom'"}], "mark": {"type": "text", "align": "left", "baseline": "alphabetic", "dx": 18, "dy": -8, "fontSize": 21, "font": "DejaVu Sans", "color": "#000"}, "encoding": {"x": {"field": "x0", "type": "quantitative", "scale": {"domain": [0, 100]}, "axis": null}, "y": {"field": "lo", "type": "quantitative", "scale": {"zero": false, "nice": false}, "axis": null}, "text": {"field": "n"}}}
    ]}
  ],
  "config": {
    "view": {"stroke": "#000", "strokeWidth": 1},
    "background": "white"
  }
}
